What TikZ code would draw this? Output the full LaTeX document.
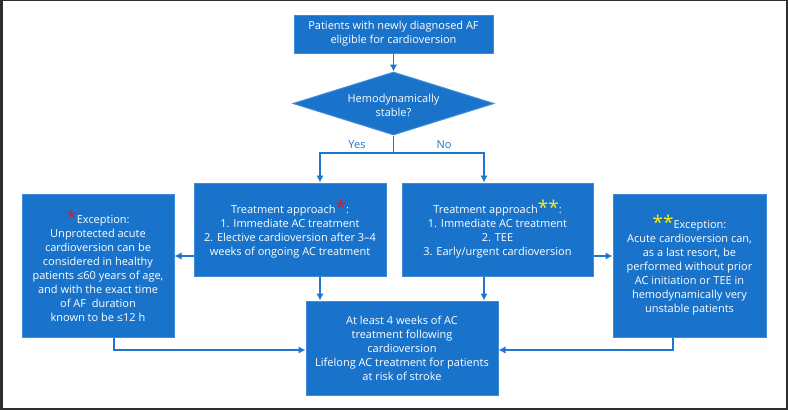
\documentclass[tikz,border=0pt]{standalone}
\usepackage{fontspec}
\setmainfont{Open Sans}
\usetikzlibrary{shapes.geometric,arrows.meta}
\definecolor{boxfill}{RGB}{26,115,202}
\definecolor{boxedge}{RGB}{62,140,218}
\definecolor{linecol}{RGB}{30,118,208}
\definecolor{starred}{RGB}{235,20,30}
\definecolor{staryel}{RGB}{250,240,20}
\definecolor{framecol}{RGB}{45,45,45}
\newcommand{\rs}{{\color{starred}\fontsize{19}{10}\selectfont\raisebox{-1pt}{*}}}
\newcommand{\ys}{{\color{staryel}\fontsize{19}{10}\selectfont\raisebox{-1pt}{**}}}
\tikzset{
  bx/.style={draw=boxedge, line width=1pt, fill=boxfill, text=white, inner sep=0pt,
    align=center, font=\fontsize{11}{14}\selectfont},
  dia/.style={diamond, draw=boxedge, line width=1pt, fill=boxfill, inner sep=0pt},
  txt/.style={text=white, align=center, inner sep=0pt, font=\fontsize{11}{14}\selectfont},
  lbl/.style={text=linecol, inner sep=0pt, font=\fontsize{11}{12}\selectfont},
  arr/.style={draw=linecol, line width=1.4pt, -{Latex[length=7pt,width=7.5pt]}},
  ln/.style={draw=linecol, line width=1.4pt}
}
\begin{document}
\begin{tikzpicture}[x=1pt,y=-1pt]
\useasboundingbox (0,0) rectangle (788,410);
\fill[white] (0,0) rectangle (788,410);
% frame
\fill[framecol] (0,0) rectangle (2.5,410);
\fill[framecol] (785.5,0) rectangle (788,410);
\fill[framecol] (0,407.5) rectangle (788,410);
\fill[framecol] (0,0) rectangle (788,1.2);

\node[bx, minimum width=199pt, minimum height=38pt] (top) at (393.5,34)
  {Patients with newly diagnosed AF\\eligible for cardioversion};
\node[dia, minimum width=201pt, minimum height=63pt] (d) at (393.5,103.5) {};
\node[txt] (dt) at (393.5,105) {Hemodynamically\\stable?};

\node[bx, minimum width=192pt, minimum height=93pt] (m1) at (290,229.5)
  {Treatment approach\rs:\\1. Immediate AC treatment\\2. Elective cardioversion after 3--4\\weeks of ongoing AC treatment};
\node[bx, minimum width=191pt, minimum height=93pt] (m2) at (497.5,229.5)
  {Treatment approach\ys:\\1. Immediate AC treatment\\2. TEE\\3. Early/urgent cardioversion};

\node[bx, minimum width=152pt, minimum height=143pt] (e1) at (98,265.5)
  {\rs Exception:\\Unprotected acute\\cardioversion can be\\considered in healthy\\patients ≤60 years of age,\\and with the exact time\\of AF\ \ duration\\known to be ≤12 h};
\node[bx, minimum width=153pt, minimum height=143pt] (e2) at (689.5,265.5)
  {\ys Exception:\\Acute cardioversion can,\\as a last resort, be\\performed without prior\\AC initiation or TEE in\\hemodynamically very\\unstable patients};

\node[bx, minimum width=192pt, minimum height=94pt] (b) at (402,348)
  {At least 4 weeks of AC\\treatment following\\cardioversion\\Lifelong AC treatment for patients\\at risk of stroke};

\coordinate (yl) at (320,153);
\coordinate (yr) at (484,153);
\coordinate (hm) at (0,256);
\coordinate (hb) at (0,350);
\coordinate (xl) at (114,0);
\coordinate (xr) at (673,0);

\draw[arr] (top.south) -- (d.north);
\draw[arr] (d.south) |- (yl) -- (yl |- m1.north);
\draw[arr] (d.south) |- (yr) -- (yr |- m2.north);
\node[lbl] (yes) at (357,145) {Yes};
\node[lbl] (no) at (444,145) {No};

\draw[arr] (yl |- m1.south) -- (yl |- b.north);
\draw[arr] (yr |- m2.south) -- (yr |- b.north);
\draw[arr] (m1.west |- hm) -- (e1.east |- hm);
\draw[arr] (m2.east |- hm) -- (e2.west |- hm);
\draw[arr] (xl |- e1.south) |- (b.west |- hb);
\draw[arr] (xr |- e2.south) |- (b.east |- hb);
\end{tikzpicture}
\end{document}
